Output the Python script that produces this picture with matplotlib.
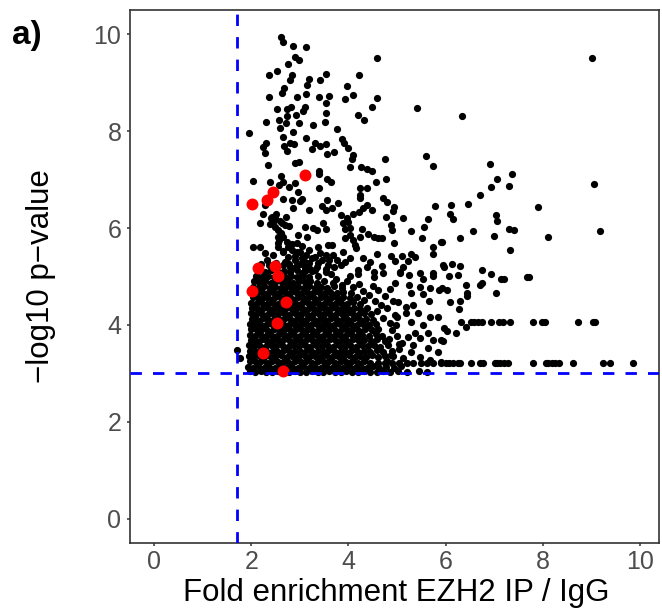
import matplotlib
matplotlib.use("Agg")
import matplotlib.pyplot as plt

plt.rcParams["font.family"] = ["Liberation Sans", "DejaVu Sans"]

# highlighted genes (red)
hit_fold = [2.02, 2.33, 2.45, 3.11, 2.14, 2.49, 2.56, 2.02, 2.72, 2.54, 2.25, 2.66]
hit_logp = [6.49, 6.58, 6.74, 7.09, 5.18, 5.22, 5.01, 4.70, 4.47, 4.04, 3.42, 3.05]

# p-value floors: rows of genes sharing the same -log10 p
floor_logp = [3.22, 4.06]
floor_fold_low = [4.62, 4.75, 4.90, 5.05, 5.20, 5.34, 5.50, 5.62, 5.75, 5.90,
                  6.00, 6.08, 6.16, 6.25, 6.29, 6.52, 6.70, 6.78, 7.01, 7.07,
                  7.13, 7.20, 7.28, 7.81, 8.06, 8.12, 8.19, 8.25, 8.33, 8.62,
                  9.24, 9.38, 9.86]
floor_fold_high = [6.31, 6.52, 6.58, 6.66, 6.76, 6.93, 7.11, 7.18, 7.32, 7.81,
                   7.98, 8.04, 8.72, 9.03, 9.07]

# sparse upper part of the cloud (fold, -log10 p)
upper_points = [
    (2.62, 9.94), (2.66, 9.84), (2.87, 9.75), (3.13, 9.73), (2.91, 9.53), (2.99, 9.46),
    (2.76, 9.38), (4.58, 9.51), (2.54, 9.24), (2.37, 9.15), (2.85, 9.15), (2.80, 9.05),
    (3.18, 9.07), (3.42, 9.05), (3.55, 9.18), (3.15, 8.95), (4.21, 9.15), (3.98, 8.93),
    (2.68, 8.89), (2.64, 8.78), (2.37, 8.70), (2.95, 8.70), (3.13, 8.76), (3.40, 8.70),
    (3.61, 8.72), (3.94, 8.66), (4.10, 8.74), (4.58, 8.68), (3.55, 8.58), (4.49, 8.49),
    (5.42, 8.47), (2.54, 8.45), (2.74, 8.45), (2.82, 8.49), (3.11, 8.49), (3.07, 8.41),
    (2.93, 8.33), (2.74, 8.31), (3.55, 8.37), (4.19, 8.33), (4.33, 8.23), (2.31, 8.19),
    (2.58, 8.23), (2.72, 8.16), (2.99, 8.16), (3.28, 8.12), (3.51, 8.19), (3.77, 8.04),
    (1.96, 7.96), (2.60, 8.06), (2.87, 7.98), (2.66, 7.88), (3.13, 7.86), (3.32, 7.75),
    (3.42, 7.69), (3.55, 7.73), (3.86, 7.84), (3.92, 7.75), (4.00, 7.65), (2.25, 7.67),
    (2.31, 7.75), (2.68, 7.69), (2.80, 7.75), (2.89, 7.73), (3.26, 7.63), (2.74, 7.59),
    (2.29, 7.55), (3.57, 7.53), (3.71, 7.57), (4.10, 7.51), (4.08, 7.42), (4.76, 7.42),
    (5.59, 7.48), (5.75, 7.28), (2.35, 7.30), (2.91, 7.34), (2.99, 7.36), (4.04, 7.26),
    (4.27, 7.26), (4.39, 7.22), (4.49, 7.18), (3.40, 7.18), (3.40, 7.11), (2.04, 6.97),
    (2.62, 7.07), (2.66, 6.95), (2.39, 6.95), (3.57, 7.01), (3.65, 6.95), (4.56, 6.95),
    (4.78, 7.01), (2.91, 6.93), (2.78, 6.85), (2.97, 6.74), (3.40, 6.82), (4.23, 6.82),
    (4.39, 6.82), (4.23, 6.68), (4.72, 6.62), (2.58, 6.89), (9.01, 9.51), (6.33, 8.31),
    (6.91, 7.32), (7.36, 7.11), (7.07, 7.01), (6.93, 6.85), (7.30, 6.87), (6.72, 6.68),
    (9.05, 6.91),
]

# right-hand tail
right_points = [
    (6.12, 6.47), (6.47, 6.49), (6.10, 6.29), (6.16, 6.19), (7.03, 6.27), (7.05, 6.14),
    (7.90, 6.43), (6.56, 5.94), (6.29, 5.79), (6.99, 5.84), (7.30, 5.98), (7.40, 5.96),
    (8.12, 5.81), (9.18, 5.94), (5.92, 5.71), (7.32, 5.55), (5.96, 5.20), (6.14, 5.26),
    (6.29, 5.22), (6.76, 5.13), (6.93, 5.05), (6.08, 5.01), (6.25, 5.03), (7.15, 4.95),
    (7.20, 4.95), (7.67, 4.99), (7.71, 4.99), (5.92, 4.76), (6.04, 4.72), (6.43, 4.82),
    (6.72, 4.82), (6.76, 4.87), (6.45, 4.66), (6.45, 4.60), (7.03, 4.66), (6.10, 4.47),
    (6.29, 4.49), (6.27, 4.33), (6.43, 3.96), (5.96, 3.94), (6.04, 3.88), (6.21, 3.84),
    (5.94, 3.67),
]

# middle density band
mid_points = [
    (4.25, 6.62), (4.80, 6.54), (3.79, 6.52), (3.67, 6.41), (4.39, 6.47), (4.31, 6.41),
    (4.49, 6.37), (4.93, 6.43), (4.91, 6.35), (5.79, 6.45), (3.84, 6.27), (4.10, 6.29),
    (4.21, 6.33), (3.98, 6.21), (4.78, 6.23), (5.13, 6.21), (5.63, 6.19), (3.88, 6.10),
    (4.00, 6.12), (3.94, 5.98), (4.04, 6.00), (4.29, 5.98), (4.87, 6.06), (4.89, 5.96),
    (5.55, 6.02), (5.28, 5.94), (3.94, 5.79), (4.04, 5.86), (4.25, 5.81), (4.41, 5.88),
    (4.52, 5.81), (4.62, 5.79), (4.70, 5.79), (5.51, 5.79), (4.10, 5.75), (4.14, 5.65),
    (4.93, 5.69), (3.67, 5.65), (5.75, 5.61), (5.90, 5.71), (4.16, 5.59), (3.90, 5.51),
    (3.69, 5.44), (4.60, 5.46), (4.87, 5.42), (5.11, 5.42), (5.28, 5.46), (5.38, 5.40),
    (5.75, 5.46), (4.31, 5.38), (4.04, 5.38), (3.77, 5.34), (3.94, 5.30), (4.45, 5.30),
    (4.97, 5.32), (5.22, 5.32), (3.84, 5.24), (4.39, 5.20), (4.70, 5.22), (5.13, 5.20),
    (5.94, 5.24), (4.19, 5.13), (4.52, 5.09), (5.07, 5.09), (5.48, 5.07), (5.75, 5.07),
    (2.66, 6.60), (2.85, 6.58), (3.01, 6.56), (3.05, 6.60), (3.57, 6.58), (2.29, 6.47),
    (2.87, 6.41), (3.18, 6.37), (3.46, 6.45), (3.53, 6.37), (2.25, 6.29), (2.43, 6.23),
    (2.49, 6.21), (2.45, 6.12), (2.19, 6.10), (2.64, 6.10), (2.70, 6.06), (3.11, 6.02),
    (3.28, 6.00), (3.36, 5.96), (3.48, 6.10), (3.53, 5.98), (2.56, 5.96), (2.56, 5.81),
    (2.66, 5.81), (2.97, 5.86), (3.15, 5.81), (2.04, 5.61), (2.19, 5.61), (2.56, 5.69),
    (2.74, 5.71), (2.76, 5.61), (2.95, 5.69), (2.85, 5.55), (3.01, 5.51), (3.18, 5.55),
    (3.38, 5.61), (3.59, 5.65), (2.29, 5.48), (2.45, 5.44), (2.66, 5.51), (3.05, 5.38),
    (3.32, 5.40), (3.53, 5.44), (2.33, 5.34), (2.91, 5.34), (3.18, 5.28), (3.38, 5.28),
    (3.59, 5.24), (2.85, 5.18), (3.11, 5.18), (3.32, 5.13), (3.53, 5.09), (3.05, 5.07),
    (2.40, 6.20), (2.52, 6.28), (2.60, 6.15), (2.72, 6.22), (2.78, 6.05), (2.50, 6.02),
    (2.38, 6.08), (2.62, 5.90), (2.55, 5.60), (2.65, 5.52), (2.75, 5.40), (2.85, 5.68),
    (2.95, 5.50), (3.05, 5.62), (2.58, 5.75), (2.70, 5.30), (2.80, 5.20), (2.90, 5.42),
    (3.00, 5.25), (3.12, 5.45), (3.10, 5.30), (3.22, 5.15), (3.35, 5.20), (3.45, 5.35),
    (3.55, 5.15), (3.65, 5.05), (3.42, 5.48), (3.25, 5.38), (3.60, 5.35), (3.70, 5.20),
    (3.69, 4.87), (3.73, 4.62), (4.04, 5.01), (4.19, 5.05), (4.52, 4.99), (4.72, 5.07),
    (5.07, 5.07), (5.24, 5.03), (5.53, 4.95), (5.75, 5.01), (4.97, 4.87), (5.24, 4.82),
    (5.48, 4.78), (5.69, 4.76), (5.86, 4.72), (5.28, 4.66), (5.53, 4.64), (5.03, 4.47),
    (5.18, 4.37), (5.34, 4.41), (5.65, 4.49), (5.44, 4.25), (5.69, 4.16), (5.84, 4.16),
    (5.18, 4.25), (5.01, 4.16), (5.28, 4.06), (5.53, 4.00), (5.38, 3.84), (5.63, 3.84),
    (5.75, 3.69), (5.90, 3.69), (5.48, 3.73), (5.22, 3.75), (5.11, 3.63), (5.34, 3.59),
    (5.63, 3.53), (5.84, 3.44), (5.28, 3.44), (5.48, 3.34), (5.69, 3.28), (5.90, 3.24),
    (5.13, 3.32), (4.87, 3.38), (1.71, 3.48), (1.77, 3.32),
    (3.75, 4.95), (3.86, 4.83), (3.98, 4.90), (4.10, 4.78), (4.22, 4.85), (4.30, 4.70),
    (4.42, 4.62), (4.50, 4.80), (4.62, 4.72), (4.75, 4.60), (4.85, 4.75), (4.33, 4.52),
    (4.55, 4.50), (4.68, 4.42), (4.80, 4.35), (4.92, 4.50), (4.60, 4.28), (4.72, 4.15),
    (4.85, 4.05), (4.95, 4.20), (4.90, 3.90), (5.00, 3.78), (4.84, 3.70), (5.05, 3.60),
    (4.98, 4.00),
]

# dense core of the cloud
core_points = [
    (1.97, 3.04), (2.08, 3.02), (2.20, 3.05), (2.31, 3.03), (2.43, 3.02), (2.55, 3.06),
    (2.66, 3.03), (2.78, 3.02), (2.90, 3.05), (3.01, 3.03), (3.13, 3.02), (3.25, 3.05),
    (3.37, 3.03), (3.48, 3.02), (3.60, 3.06), (3.72, 3.03), (3.84, 3.02), (3.96, 3.05),
    (4.08, 3.03), (4.20, 3.02), (4.32, 3.05), (4.45, 3.03), (4.58, 3.02), (4.72, 3.05),
    (4.86, 3.03), (5.02, 3.04), (5.20, 3.02), (5.45, 3.05), (5.62, 3.03),
    (1.93, 3.14), (2.03, 3.12), (2.14, 3.15), (2.26, 3.11), (2.37, 3.14), (2.49, 3.12),
    (2.61, 3.15), (2.72, 3.11), (2.84, 3.14), (2.96, 3.12), (3.07, 3.15), (3.19, 3.11),
    (3.31, 3.14), (3.43, 3.12), (3.54, 3.15), (3.66, 3.11), (3.78, 3.14), (3.90, 3.12),
    (4.02, 3.15), (4.14, 3.11), (4.26, 3.14), (4.38, 3.12), (4.51, 3.15), (4.64, 3.11),
    (4.78, 3.14), (4.93, 3.12), (5.08, 3.15),
    (1.98, 3.25), (2.09, 3.23), (2.20, 3.26), (2.32, 3.22), (2.43, 3.25), (2.55, 3.23),
    (2.67, 3.26), (2.78, 3.22), (2.90, 3.25), (3.02, 3.23), (3.13, 3.26), (3.25, 3.22),
    (3.37, 3.25), (3.49, 3.23), (3.60, 3.26), (3.72, 3.22), (3.84, 3.25), (3.96, 3.23),
    (4.08, 3.26), (4.20, 3.22), (4.32, 3.25), (4.44, 3.22), (4.80, 3.26),
    (1.95, 3.36), (2.04, 3.34), (2.15, 3.37), (2.26, 3.33), (2.38, 3.36), (2.50, 3.34),
    (2.61, 3.37), (2.73, 3.33), (2.85, 3.36), (2.96, 3.34), (3.08, 3.37), (3.20, 3.33),
    (3.31, 3.36), (3.43, 3.34), (3.55, 3.37), (3.66, 3.33), (3.78, 3.36), (3.90, 3.34),
    (4.02, 3.37), (4.13, 3.33), (4.25, 3.36), (4.37, 3.34), (4.49, 3.37), (4.62, 3.33),
    (4.76, 3.36), (4.92, 3.35),
    (1.98, 3.47), (2.09, 3.45), (2.21, 3.48), (2.32, 3.44), (2.44, 3.47), (2.56, 3.45),
    (2.67, 3.48), (2.79, 3.44), (2.91, 3.47), (3.02, 3.45), (3.14, 3.48), (3.26, 3.44),
    (3.38, 3.47), (3.49, 3.45), (3.61, 3.48), (3.73, 3.44), (3.85, 3.47), (3.96, 3.45),
    (4.08, 3.48), (4.20, 3.44), (4.32, 3.47), (4.45, 3.45), (4.58, 3.48), (4.72, 3.44),
    (4.90, 3.47), (5.05, 3.50),
    (1.96, 3.58), (2.06, 3.56), (2.17, 3.59), (2.29, 3.55), (2.40, 3.58), (2.52, 3.56),
    (2.64, 3.59), (2.75, 3.55), (2.87, 3.58), (2.99, 3.56), (3.10, 3.59), (3.22, 3.55),
    (3.34, 3.58), (3.46, 3.56), (3.57, 3.59), (3.69, 3.55), (3.81, 3.58), (3.93, 3.56),
    (4.04, 3.59), (4.16, 3.55), (4.28, 3.58), (4.40, 3.56), (4.53, 3.59), (4.66, 3.55),
    (4.82, 3.58),
    (1.99, 3.69), (2.10, 3.67), (2.22, 3.70), (2.33, 3.66), (2.45, 3.69), (2.57, 3.67),
    (2.68, 3.70), (2.80, 3.66), (2.92, 3.69), (3.03, 3.67), (3.15, 3.70), (3.27, 3.66),
    (3.39, 3.69), (3.50, 3.67), (3.62, 3.70), (3.74, 3.66), (3.86, 3.69), (3.97, 3.67),
    (4.09, 3.70), (4.21, 3.66), (4.33, 3.69), (4.46, 3.67), (4.60, 3.70), (4.75, 3.66),
    (1.97, 3.80), (2.07, 3.78), (2.18, 3.81), (2.30, 3.77), (2.41, 3.80), (2.53, 3.78),
    (2.65, 3.81), (2.76, 3.77), (2.88, 3.80), (3.00, 3.78), (3.11, 3.81), (3.23, 3.77),
    (3.35, 3.80), (3.47, 3.78), (3.58, 3.81), (3.70, 3.77), (3.82, 3.80), (3.94, 3.78),
    (4.05, 3.81), (4.17, 3.77), (4.29, 3.80), (4.42, 3.78), (4.56, 3.81), (4.70, 3.77),
    (2.00, 3.91), (2.11, 3.89), (2.23, 3.92), (2.34, 3.88), (2.46, 3.91), (2.58, 3.89),
    (2.69, 3.92), (2.81, 3.88), (2.93, 3.91), (3.04, 3.89), (3.16, 3.92), (3.28, 3.88),
    (3.40, 3.91), (3.51, 3.89), (3.63, 3.92), (3.75, 3.88), (3.87, 3.91), (3.98, 3.89),
    (4.10, 3.92), (4.22, 3.88), (4.35, 3.91), (4.48, 3.89), (4.62, 3.92),
    (1.98, 4.02), (2.08, 4.00), (2.19, 4.03), (2.31, 3.99), (2.42, 4.02), (2.54, 4.00),
    (2.66, 4.03), (2.77, 3.99), (2.89, 4.02), (3.01, 4.00), (3.12, 4.03), (3.24, 3.99),
    (3.36, 4.02), (3.48, 4.00), (3.59, 4.03), (3.71, 3.99), (3.83, 4.02), (3.95, 4.00),
    (4.06, 4.03), (4.18, 3.99), (4.30, 4.02), (4.43, 4.00), (4.56, 4.03),
    (2.01, 4.13), (2.12, 4.11), (2.24, 4.14), (2.35, 4.10), (2.47, 4.13), (2.59, 4.11),
    (2.70, 4.14), (2.82, 4.10), (2.94, 4.13), (3.05, 4.11), (3.17, 4.14), (3.29, 4.10),
    (3.41, 4.13), (3.52, 4.11), (3.64, 4.14), (3.76, 4.10), (3.88, 4.13), (3.99, 4.11),
    (4.11, 4.14), (4.23, 4.10), (4.36, 4.13), (4.50, 4.11),
    (1.99, 4.24), (2.09, 4.22), (2.20, 4.25), (2.32, 4.21), (2.43, 4.24), (2.55, 4.22),
    (2.67, 4.25), (2.78, 4.21), (2.90, 4.24), (3.02, 4.22), (3.13, 4.25), (3.25, 4.21),
    (3.37, 4.24), (3.49, 4.22), (3.60, 4.25), (3.72, 4.21), (3.84, 4.24), (3.96, 4.22),
    (4.07, 4.25), (4.19, 4.21), (4.32, 4.24), (4.46, 4.22),
    (2.02, 4.35), (2.13, 4.33), (2.25, 4.36), (2.36, 4.32), (2.48, 4.35), (2.60, 4.33),
    (2.71, 4.36), (2.83, 4.32), (2.95, 4.35), (3.06, 4.33), (3.18, 4.36), (3.30, 4.32),
    (3.42, 4.35), (3.53, 4.33), (3.65, 4.36), (3.77, 4.32), (3.89, 4.35), (4.00, 4.33),
    (4.12, 4.36), (4.25, 4.32), (4.38, 4.35),
    (2.00, 4.46), (2.10, 4.44), (2.21, 4.47), (2.33, 4.43), (2.44, 4.46), (2.56, 4.44),
    (2.68, 4.47), (2.79, 4.43), (2.91, 4.46), (3.03, 4.44), (3.14, 4.47), (3.26, 4.43),
    (3.38, 4.46), (3.50, 4.44), (3.61, 4.47), (3.73, 4.43), (3.85, 4.46), (3.97, 4.44),
    (4.10, 4.47), (4.24, 4.43),
    (2.03, 4.57), (2.14, 4.55), (2.26, 4.58), (2.37, 4.54), (2.49, 4.57), (2.61, 4.55),
    (2.72, 4.58), (2.84, 4.54), (2.96, 4.57), (3.07, 4.55), (3.19, 4.58), (3.31, 4.54),
    (3.43, 4.57), (3.54, 4.55), (3.66, 4.58), (3.78, 4.54), (3.90, 4.57), (4.03, 4.55),
    (4.18, 4.58),
    (2.01, 4.68), (2.11, 4.66), (2.22, 4.69), (2.34, 4.65), (2.45, 4.68), (2.57, 4.66),
    (2.69, 4.69), (2.80, 4.65), (2.92, 4.68), (3.04, 4.66), (3.15, 4.69), (3.27, 4.65),
    (3.39, 4.68), (3.51, 4.66), (3.63, 4.69), (3.76, 4.65), (3.90, 4.68), (4.05, 4.66),
    (2.04, 4.79), (2.15, 4.77), (2.27, 4.80), (2.38, 4.76), (2.50, 4.79), (2.62, 4.77),
    (2.73, 4.80), (2.85, 4.76), (2.97, 4.79), (3.08, 4.77), (3.20, 4.80), (3.32, 4.76),
    (3.44, 4.79), (3.56, 4.77), (3.70, 4.80), (3.86, 4.77),
    (2.06, 4.90), (2.17, 4.88), (2.29, 4.91), (2.40, 4.87), (2.52, 4.90), (2.64, 4.88),
    (2.75, 4.91), (2.87, 4.87), (2.99, 4.90), (3.10, 4.88), (3.22, 4.91), (3.35, 4.87),
    (3.50, 4.90),
    (2.10, 5.01), (2.22, 4.99), (2.34, 5.02), (2.46, 4.98), (2.58, 5.01), (2.70, 4.99),
    (2.82, 5.02), (2.94, 4.98), (3.07, 5.01), (3.20, 4.99), (3.38, 5.02),
    (2.14, 5.12), (2.28, 5.10), (2.41, 5.13), (2.55, 5.10), (2.68, 5.12), (2.80, 5.10),
    (2.95, 5.13), (3.10, 5.11), (3.25, 5.12),
    (2.20, 5.26), (2.36, 5.24), (2.52, 5.27), (2.65, 5.23), (2.78, 5.26), (2.95, 5.24),
    (3.08, 5.30),
]


def collect_points():
    pts = upper_points + right_points + mid_points + core_points
    fold = [p[0] for p in pts]
    logp = [p[1] for p in pts]
    fold += floor_fold_low + floor_fold_high
    logp += [floor_logp[0]] * len(floor_fold_low) + [floor_logp[1]] * len(floor_fold_high)
    return fold, logp


def plot_volcano(fold, logp):
    fig = plt.figure(figsize=(6.62, 6.09), dpi=100)
    ax = fig.add_axes([130 / 662, 66 / 609, 529 / 662, 533 / 609])

    ax.scatter(fold, logp, s=27, c="black", linewidths=0, zorder=2)
    ax.scatter(hit_fold, hit_logp, s=74, c="red", linewidths=0, zorder=3)

    ax.axvline(1.7, color="#0000FF", lw=2.0, dashes=(4.1, 4.0), zorder=4)
    ax.axhline(3.0, color="#0000FF", lw=2.0, dashes=(4.1, 4.0), zorder=4)

    ax.set_xlim(-0.495, 10.395)
    ax.set_ylim(-0.5, 10.5)
    ax.set_xticks([0, 2, 4, 6, 8, 10])
    ax.set_yticks([0, 2, 4, 6, 8, 10])

    for side in ["left", "bottom", "top", "right"]:
        ax.spines[side].set_color("#333333")
        ax.spines[side].set_linewidth(1.2)

    ax.tick_params(length=2.2, width=1.1, color="#333333",
                   labelsize=18, labelcolor="#4D4D4D", pad=3)
    ax.tick_params(axis="y", pad=4)

    fig.text(396 / 662, 1 - 601 / 609, "Fold enrichment EZH2 IP / IgG",
             ha="center", va="baseline", fontsize=22.5, color="black")
    fig.text(41 / 662, 1 - 276 / 609, "\u2212log10 p\u2212value",
             ha="center", va="center", rotation=90, fontsize=22.5, color="black")
    fig.text(12 / 662, 1 - 44 / 609, "a)", ha="left", va="baseline",
             fontsize=24, fontweight="bold", color="black")

    fig.savefig("out.png", dpi=100)
    plt.close(fig)


def main():
    fold, logp = collect_points()
    plot_volcano(fold, logp)


if __name__ == "__main__":
    main()
